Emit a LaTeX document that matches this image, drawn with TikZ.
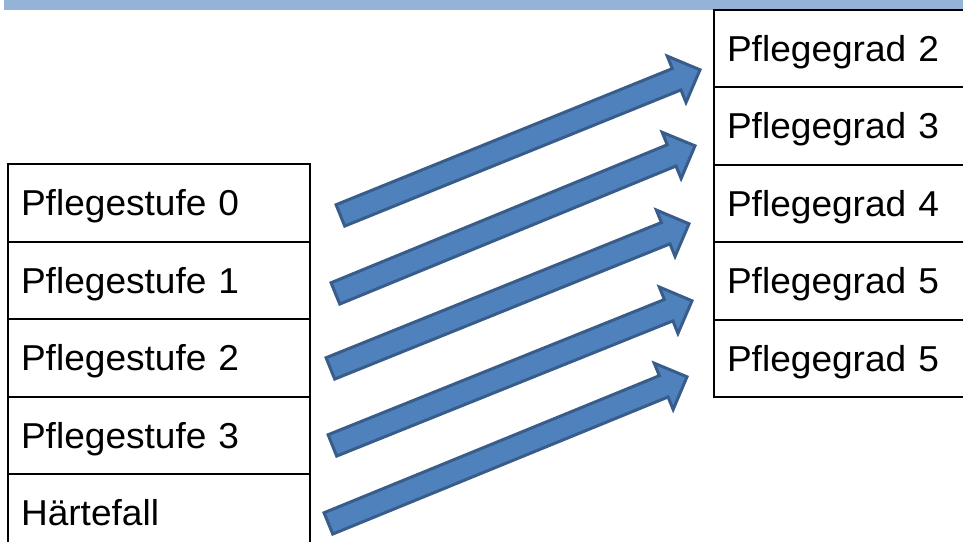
\documentclass[tikz,border=0pt]{standalone}
\usepackage{fontspec}
\setmainfont[FakeStretch=1.03]{Liberation Sans}
\usetikzlibrary{calc}
\definecolor{bandblue}{HTML}{95B3D7}
\definecolor{arrowfill}{HTML}{4F81BD}
\definecolor{arrowline}{HTML}{385D8A}
\tikzset{
  cell/.style={draw=black, line width=2pt, rectangle, inner xsep=13pt, inner ysep=0pt,
    minimum height=77.5pt, align=left, text height=25.5pt, text depth=0pt,
    font=\fontsize{36}{42}\selectfont},
  leftcell/.style={cell, minimum width=302pt, text width=276pt},
  rightcell/.style={cell, minimum width=261pt, text width=235pt},
  barrow/.style={fill=arrowfill, draw=arrowline, line width=3pt, line join=miter}
}
\newcommand\blockarrow[2]{%
  \coordinate (#1b) at ($(#1)!0.935!(#2)$);
  \draw[barrow] ($(#1)!11.5pt!90:(#2)$) -- ($(#1b)!11.5pt!90:(#2)$) -- ($(#1b)!25pt!90:(#2)$)
    -- (#2) -- ($(#1b)!25pt!-90:(#2)$) -- ($(#1b)!11.5pt!-90:(#2)$) -- ($(#1)!11.5pt!-90:(#2)$) -- cycle;
}
\begin{document}
\begin{tikzpicture}[x=1pt,y=-1pt]
\useasboundingbox (0,0) rectangle (963,541);
\clip (0,0) rectangle (963,541);
\fill[bandblue] (4,0) rectangle (963,10);
% left column
\node[leftcell] (s0) at (159,202.75) {Pflegestufe 0};
\node[leftcell] (s1) at (159,280.25) {Pflegestufe 1};
\node[leftcell] (s2) at (159,357.75) {Pflegestufe 2};
\node[leftcell] (s3) at (159,435.25) {Pflegestufe 3};
\node[leftcell] (s4) at (159,512.75) {Härtefall};
% right column
\node[rightcell] (g2) at (844.5,48.7) {Pflegegrad 2};
\node[rightcell] (g3) at (844.5,126.1) {Pflegegrad 3};
\node[rightcell] (g4) at (844.5,203.5) {Pflegegrad 4};
\node[rightcell] (g5) at (844.5,280.9) {Pflegegrad 5};
\node[rightcell] (g6) at (844.5,358.3) {Pflegegrad 5};
% arrows
\coordinate (t1) at (340.4,215.4); \coordinate (p1) at (700,69.8);
\coordinate (t2) at (335.4,293.4); \coordinate (p2) at (695,145.8);
\coordinate (t3) at (330.4,368.4); \coordinate (p3) at (689,223.8);
\coordinate (t4) at (332.4,445.4); \coordinate (p4) at (692,300.8);
\coordinate (t5) at (328.4,523.4); \coordinate (p5) at (687,376.8);
\blockarrow{t1}{p1}
\blockarrow{t2}{p2}
\blockarrow{t3}{p3}
\blockarrow{t4}{p4}
\blockarrow{t5}{p5}
\end{tikzpicture}
\end{document}
